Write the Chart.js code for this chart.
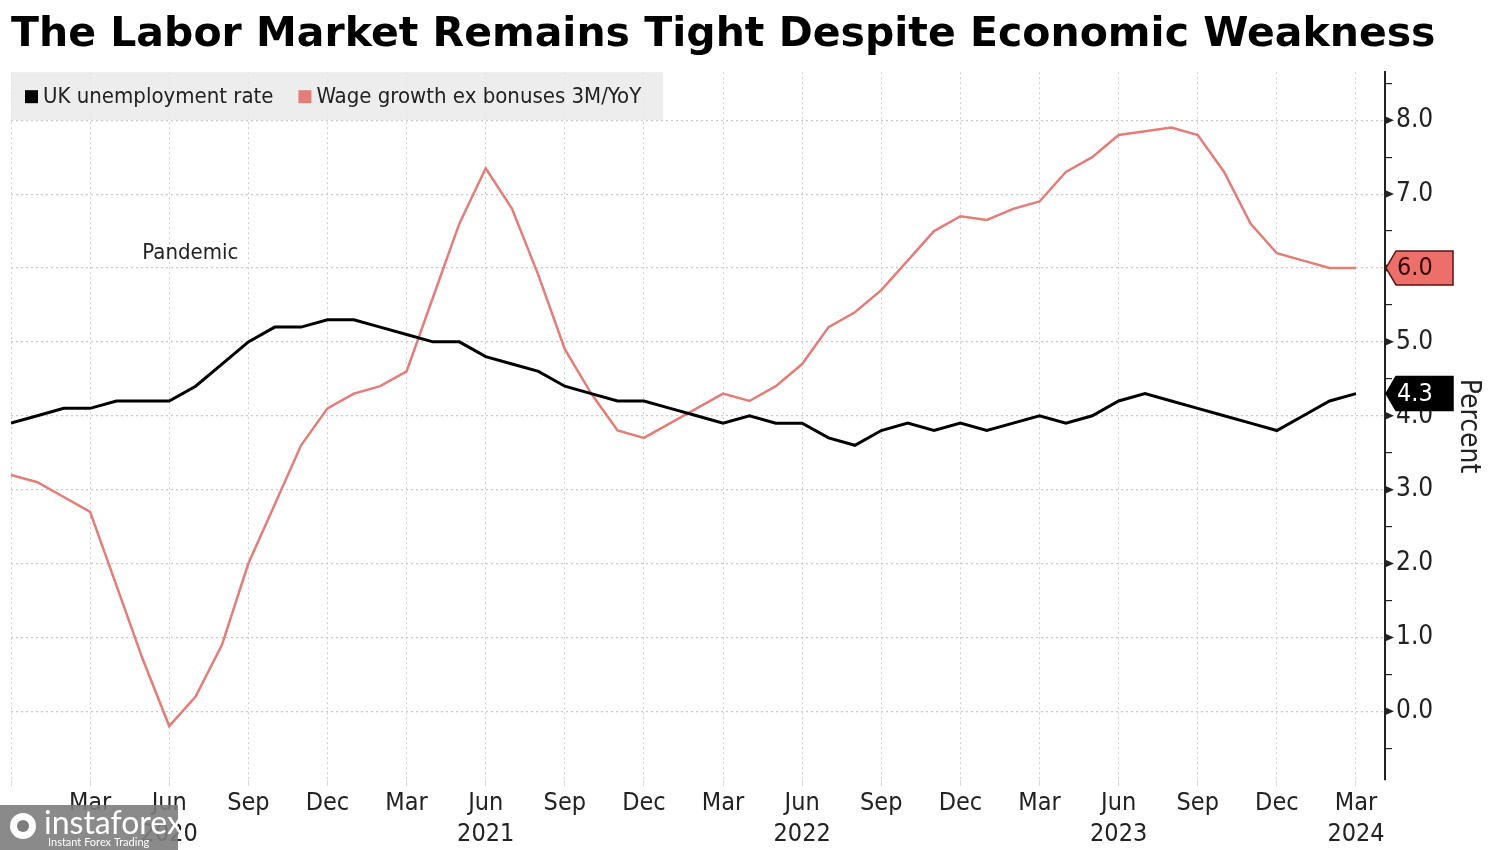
<!DOCTYPE html>
<html>
<head>
<meta charset="utf-8">
<script src="https://cdn.jsdelivr.net/npm/chart.js@4.4.1/dist/chart.umd.min.js"></script>
<style>
    body { margin: 0; background: #fff; }
    canvas { display: block; }
</style>
</head>
<body>
<canvas id="myChart" width="1500" height="850"></canvas>
<script>
// monthly data, Dec 2019 - Mar 2024
var months = [
    'Dec 2019',
    'Jan 2020', 'Feb 2020', 'Mar 2020', 'Apr 2020', 'May 2020', 'Jun 2020', 'Jul 2020', 'Aug 2020', 'Sep 2020', 'Oct 2020', 'Nov 2020', 'Dec 2020',
    'Jan 2021', 'Feb 2021', 'Mar 2021', 'Apr 2021', 'May 2021', 'Jun 2021', 'Jul 2021', 'Aug 2021', 'Sep 2021', 'Oct 2021', 'Nov 2021', 'Dec 2021',
    'Jan 2022', 'Feb 2022', 'Mar 2022', 'Apr 2022', 'May 2022', 'Jun 2022', 'Jul 2022', 'Aug 2022', 'Sep 2022', 'Oct 2022', 'Nov 2022', 'Dec 2022',
    'Jan 2023', 'Feb 2023', 'Mar 2023', 'Apr 2023', 'May 2023', 'Jun 2023', 'Jul 2023', 'Aug 2023', 'Sep 2023', 'Oct 2023', 'Nov 2023', 'Dec 2023',
    'Jan 2024', 'Feb 2024', 'Mar 2024'
];
var unemployment = [
    3.9,
    4.0, 4.1, 4.1, 4.2, 4.2, 4.2, 4.4, 4.7, 5.0, 5.2, 5.2, 5.3,
    5.3, 5.2, 5.1, 5.0, 5.0, 4.8, 4.7, 4.6, 4.4, 4.3, 4.2, 4.2,
    4.1, 4.0, 3.9, 4.0, 3.9, 3.9, 3.7, 3.6, 3.8, 3.9, 3.8, 3.9,
    3.8, 3.9, 4.0, 3.9, 4.0, 4.2, 4.3, 4.2, 4.1, 4.0, 3.9, 3.8,
    4.0, 4.2, 4.3
];
var wageGrowth = [
    3.2,
    3.1, 2.9, 2.7, 1.7, 0.7, -0.2, 0.2, 0.9, 2.0, 2.8, 3.6, 4.1,
    4.3, 4.4, 4.6, 5.6, 6.6, 7.35, 6.8, 5.9, 4.9, 4.3, 3.8, 3.7,
    3.9, 4.1, 4.3, 4.2, 4.4, 4.7, 5.2, 5.4, 5.7, 6.1, 6.5, 6.7,
    6.65, 6.8, 6.9, 7.3, 7.5, 7.8, 7.85, 7.9, 7.8, 7.3, 6.6, 6.2,
    6.1, 6.0, 6.0
];
var seriesNames = ['UK unemployment rate', 'Wage growth ex bonuses 3M/YoY'];
var seriesColors = ['#000000', '#e27d77'];

// axis ticks
var xTickMonths = ['Dec 2019', 'Mar 2020', 'Jun 2020', 'Sep 2020', 'Dec 2020', 'Mar 2021', 'Jun 2021', 'Sep 2021', 'Dec 2021',
    'Mar 2022', 'Jun 2022', 'Sep 2022', 'Dec 2022', 'Mar 2023', 'Jun 2023', 'Sep 2023', 'Dec 2023', 'Mar 2024'];
var yearUnder = ['Jun 2020', 'Jun 2021', 'Jun 2022', 'Jun 2023', 'Mar 2024'];
var yTicks = [-0.5, 0, 0.5, 1, 1.5, 2, 2.5, 3, 3.5, 4, 4.5, 5, 5.5, 6, 6.5, 7, 7.5, 8, 8.5];

var condensed = "'DejaVu Sans Condensed', 'DejaVu Sans', sans-serif";

function toPoints(arr) {
    return arr.map(function (v, i) { return { x: i, y: v }; });
}

// grey legend box inside the plot
var boxLegend = {
    id: 'boxLegend',
    beforeDatasetsDraw: function (chart) {
        var c = chart.ctx, a = chart.chartArea;
        c.save();
        c.font = '22px ' + condensed;
        var x = a.left + 14;
        var y = a.top + 25;
        var items = [];
        for (var i = 0; i < seriesNames.length; i++) {
            items.push({ x: x, name: seriesNames[i], color: seriesColors[i] });
            x += 18 + c.measureText(seriesNames[i]).width + 25;
        }
        c.fillStyle = 'rgba(232,232,232,0.8)';
        c.fillRect(a.left, a.top, x - a.left - 3, 48);
        c.textBaseline = 'middle';
        items.forEach(function (it) {
            c.fillStyle = it.color;
            c.fillRect(it.x, y - 7, 13, 13);
            c.fillStyle = '#222';
            c.fillText(it.name, it.x + 18, y);
        });
        c.restore();
    }
};

// last value badges on the right axis, axis arrows, note, watermark
var extras = {
    id: 'extras',
    afterDraw: function (chart) {
        var c = chart.ctx, a = chart.chartArea;
        var ys = chart.scales.y, xs = chart.scales.x;
        c.save();

        // small arrowheads on the whole-number ticks
        c.fillStyle = '#222';
        yTicks.forEach(function (v) {
            if (v % 1 !== 0) return;
            var ty = ys.getPixelForValue(v);
            c.beginPath();
            c.moveTo(a.right, ty - 4);
            c.lineTo(a.right + 9, ty);
            c.lineTo(a.right, ty + 4);
            c.closePath();
            c.fill();
        });

        // Pandemic note
        c.font = '22px ' + condensed;
        c.fillStyle = '#222';
        c.textAlign = 'center';
        c.textBaseline = 'middle';
        c.fillText('Pandemic', xs.getPixelForValue(6.8), ys.getPixelForValue(6.2));

        // badges
        var lasts = [unemployment[unemployment.length - 1], wageGrowth[wageGrowth.length - 1]];
        var fills = ['#000000', '#ec6f6a'];
        var texts = ['#ffffff', '#3a0806'];
        for (var i = 0; i < lasts.length; i++) {
            var py = ys.getPixelForValue(lasts[i]);
            var x0 = a.right + 1;
            c.beginPath();
            c.moveTo(x0, py);
            c.lineTo(x0 + 10, py - 17);
            c.lineTo(x0 + 67, py - 17);
            c.lineTo(x0 + 67, py + 17);
            c.lineTo(x0 + 10, py + 17);
            c.closePath();
            c.fillStyle = fills[i];
            c.fill();
            c.lineWidth = 1.5;
            c.strokeStyle = i == 0 ? '#000' : '#5a1512';
            c.stroke();
            c.fillStyle = texts[i];
            c.font = '25px ' + condensed;
            c.textAlign = 'left';
            c.fillText(lasts[i].toFixed(1), x0 + 11, py + 1);
        }

        // watermark
        c.fillStyle = 'rgba(125,125,125,0.9)';
        c.fillRect(0, 805, 178, 45);
        c.fillStyle = '#ffffff';
        c.beginPath();
        c.arc(23, 826, 13, 0, Math.PI * 2);
        c.fill();
        c.fillStyle = 'rgba(125,125,125,1)';
        c.beginPath();
        c.arc(23, 826, 6, 0, Math.PI * 2);
        c.fill();
        c.fillStyle = '#ffffff';
        c.textAlign = 'left';
        c.textBaseline = 'alphabetic';
        c.font = '32px Lato, sans-serif';
        c.fillText('instaforex', 44, 834);
        c.font = '11px Lato, sans-serif';
        c.fillText('Instant Forex Trading', 48, 846);
        c.restore();
    }
};

var ctx = document.getElementById('myChart').getContext('2d');
var myChart = new Chart(ctx, {
    type: 'line',
    data: {
        datasets: [{
            label: seriesNames[0],
            data: toPoints(unemployment),
            borderColor: seriesColors[0],
            borderWidth: 3,
            pointRadius: 0,
            tension: 0
        }, {
            label: seriesNames[1],
            data: toPoints(wageGrowth),
            borderColor: seriesColors[1],
            borderWidth: 2.5,
            pointRadius: 0,
            tension: 0
        }]
    },
    options: {
        responsive: false,
        animation: false,
        layout: {
            padding: { left: 11, top: 0 }
        },
        plugins: {
            legend: { display: false },
            tooltip: { enabled: false },
            title: {
                display: true,
                text: 'The Labor Market Remains Tight Despite Economic Weakness',
                align: 'start',
                color: '#000',
                font: { family: "'DejaVu Sans', sans-serif", size: 41, weight: 'bold' },
                padding: { top: 11, bottom: 12 }
            }
        },
        scales: {
            x: {
                type: 'linear',
                min: 0,
                max: 52.1,
                afterBuildTicks: function (scale) {
                    scale.ticks = xTickMonths.map(function (m) { return { value: months.indexOf(m) }; });
                },
                afterFit: function (scale) { scale.height = 70; },
                ticks: {
                    autoSkip: false,
                    maxRotation: 0,
                    padding: 2,
                    color: '#222',
                    font: { family: condensed, size: 25, lineHeight: 1.25 },
                    callback: function (value) {
                        var m = months[value];
                        if (value === 0) return '';
                        var parts = m.split(' ');
                        return yearUnder.indexOf(m) >= 0 ? [parts[0], parts[1]] : parts[0];
                    }
                },
                grid: {
                    color: '#cfcfcf',
                    lineWidth: 1,
                    tickColor: '#d8d8d8',
                    tickLength: 6
                },
                border: { display: false, dash: [2, 3] }
            },
            y: {
                position: 'right',
                min: -0.93,
                max: 8.65,
                afterBuildTicks: function (scale) {
                    scale.ticks = yTicks.map(function (v) { return { value: v }; });
                },
                afterFit: function (scale) { scale.width = 115; },
                ticks: {
                    padding: 4,
                    color: '#222',
                    font: { family: condensed, size: 26 },
                    callback: function (value) {
                        return value % 1 === 0 ? value.toFixed(1) : '';
                    }
                },
                grid: {
                    color: function (c) {
                        return c.tick && c.tick.value % 1 === 0 ? '#c8c8c8' : 'rgba(0,0,0,0)';
                    },
                    lineWidth: 1.2,
                    tickColor: function (c) {
                        return c.tick && c.tick.value % 1 === 0 ? 'rgba(0,0,0,0)' : '#222';
                    },
                    tickLength: 7
                },
                border: { display: true, color: '#222', width: 2, dash: [2, 3] },
                title: {
                    display: true,
                    text: 'Percent',
                    color: '#222',
                    font: { family: condensed, size: 28 },
                    padding: { top: 15, bottom: 0 }
                }
            }
        }
    },
    plugins: [boxLegend, extras]
});
</script>
</body>
</html>
